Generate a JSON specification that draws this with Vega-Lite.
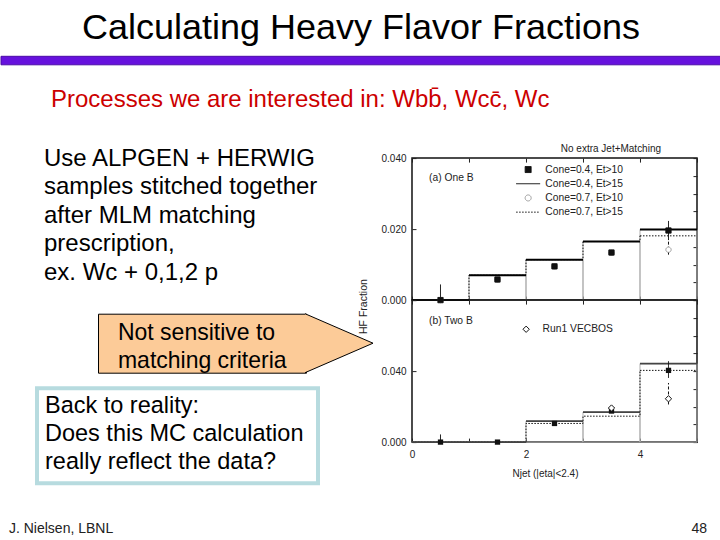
{
  "$schema": "https://vega.github.io/schema/vega-lite/v6.json",
  "background": "white",
  "padding": {"top": 9.3, "left": 0, "right": 0, "bottom": 0},
  "config": {
    "font": "Liberation Sans",
    "view": {"stroke": null},
    "concat": {"spacing": 0},
    "axis": {"labelFont": "Liberation Sans", "titleFont": "Liberation Sans", "labelFontSize": 10, "labelColor": "#222", "titleColor": "#222", "titleFontWeight": "normal", "tickColor": "#222", "grid": false, "labelOverlap": false},
    "legend": {"labelFont": "Liberation Sans", "titleFont": "Liberation Sans"},
    "title": {"font": "Liberation Sans", "fontWeight": "normal"}
  },
  "title": {"text": "Calculating Heavy Flavor Fractions", "fontSize": 36, "color": "#000", "anchor": "middle", "offset": 8.7},
  "datasets": {
    "histA": [
      {"series": "Cone=0.4, Et>15", "lo": 0, "hi": 1, "frac": 0},
      {"series": "Cone=0.4, Et>15", "lo": 1, "hi": 2, "frac": 0.0070},
      {"series": "Cone=0.4, Et>15", "lo": 2, "hi": 3, "frac": 0.0114},
      {"series": "Cone=0.4, Et>15", "lo": 3, "hi": 4, "frac": 0.0165},
      {"series": "Cone=0.4, Et>15", "lo": 4, "hi": 5, "frac": 0.0199},
      {"series": "Cone=0.7, Et>15", "lo": 0, "hi": 1, "frac": 0},
      {"series": "Cone=0.7, Et>15", "lo": 1, "hi": 2, "frac": 0.0070},
      {"series": "Cone=0.7, Et>15", "lo": 2, "hi": 3, "frac": 0.0114},
      {"series": "Cone=0.7, Et>15", "lo": 3, "hi": 4, "frac": 0.0165},
      {"series": "Cone=0.7, Et>15", "lo": 4, "hi": 5, "frac": 0.0181}
    ],
    "ptsA": [
      {"series": "Cone=0.7, Et>10", "njet": 0.5, "frac": 0, "errLo": null, "errHi": null},
      {"series": "Cone=0.7, Et>10", "njet": 1.5, "frac": 0.0058, "errLo": null, "errHi": null},
      {"series": "Cone=0.7, Et>10", "njet": 2.5, "frac": 0.0095, "errLo": null, "errHi": null},
      {"series": "Cone=0.7, Et>10", "njet": 3.5, "frac": 0.0133, "errLo": null, "errHi": null},
      {"series": "Cone=0.7, Et>10", "njet": 4.5, "frac": 0.0142, "errLo": 0.0128, "errHi": 0.0172},
      {"series": "Cone=0.4, Et>10", "njet": 0.5, "frac": 0, "errLo": 0, "errHi": 0.0044},
      {"series": "Cone=0.4, Et>10", "njet": 1.5, "frac": 0.0058, "errLo": null, "errHi": null},
      {"series": "Cone=0.4, Et>10", "njet": 2.5, "frac": 0.0095, "errLo": null, "errHi": null},
      {"series": "Cone=0.4, Et>10", "njet": 3.5, "frac": 0.0134, "errLo": 0.0127, "errHi": 0.0141},
      {"series": "Cone=0.4, Et>10", "njet": 4.5, "frac": 0.0196, "errLo": 0.0169, "errHi": 0.0223}
    ],
    "histB": [
      {"series": "Cone=0.4, Et>15", "lo": 0, "hi": 1, "frac": 0},
      {"series": "Cone=0.4, Et>15", "lo": 1, "hi": 2, "frac": 0},
      {"series": "Cone=0.4, Et>15", "lo": 2, "hi": 3, "frac": 0.0118},
      {"series": "Cone=0.4, Et>15", "lo": 3, "hi": 4, "frac": 0.0169},
      {"series": "Cone=0.4, Et>15", "lo": 4, "hi": 5, "frac": 0.0442},
      {"series": "Cone=0.7, Et>15", "lo": 0, "hi": 1, "frac": 0},
      {"series": "Cone=0.7, Et>15", "lo": 1, "hi": 2, "frac": 0},
      {"series": "Cone=0.7, Et>15", "lo": 2, "hi": 3, "frac": 0.0105},
      {"series": "Cone=0.7, Et>15", "lo": 3, "hi": 4, "frac": 0.0146},
      {"series": "Cone=0.7, Et>15", "lo": 4, "hi": 5, "frac": 0.0404}
    ],
    "ptsB": [
      {"series": "Cone=0.4, Et>10", "njet": 0.5, "frac": 0, "errLo": 0, "errHi": 0.0043},
      {"series": "Cone=0.4, Et>10", "njet": 1.5, "frac": 0, "errLo": null, "errHi": null},
      {"series": "Cone=0.4, Et>10", "njet": 2.5, "frac": 0.0105, "errLo": null, "errHi": null},
      {"series": "Cone=0.4, Et>10", "njet": 3.5, "frac": 0.0175, "errLo": 0.0167, "errHi": 0.0183},
      {"series": "Cone=0.4, Et>10", "njet": 4.5, "frac": 0.0404, "errLo": 0.0362, "errHi": 0.0456},
      {"series": "Run1 VECBOS", "njet": 3.5, "frac": 0.0192, "errLo": null, "errHi": null},
      {"series": "Run1 VECBOS", "njet": 4.5, "frac": 0.0244, "errLo": 0.0212, "errHi": 0.0333}
    ]
  },
  "spacing": 22.8,
  "vconcat": [
    {
      "width": 720, "height": 8.5,
      "data": {"values": [{"part": "rule"}]},
      "mark": {"type": "rect", "fill": "#6611dd", "stroke": "#4a0aa8", "strokeWidth": 1},
      "encoding": {}
    },
    {
      "title": {"text": "Processes we are interested in: Wbb\u0304, Wcc\u0304, Wc", "fontSize": 24, "color": "#cc0000", "anchor": "start", "dx": 50, "offset": 30.4},
      "spacing": -19,
      "hconcat": [
        {
          "spacing": 11.6,
          "vconcat": [
            {
              "width": 340, "height": 156.4,
              "data": {"values": [{"block": "intro", "text": "Use ALPGEN + HERWIG\nsamples stitched together\nafter MLM matching\nprescription,\nex. Wc + 0,1,2 p"}]},
              "mark": {"type": "text", "align": "left", "baseline": "alphabetic", "fontSize": 24, "lineBreak": "\n", "lineHeight": 28.5, "color": "#000"},
              "encoding": {
                "x": {"field": "block", "type": "nominal", "scale": {"type": "point", "padding": 0, "align": 0.1265}, "axis": null},
                "y": {"field": "block", "type": "nominal", "scale": {"type": "point", "padding": 0, "align": 0.1445}, "axis": null},
                "text": {"field": "text"}
              }
            },
            {
              "bounds": "flush",
              "hconcat": [
                {"width": 97, "height": 59, "data": {"values": [{"part": "gap"}]}, "mark": {"type": "point", "opacity": 0}},
                {
                  "width": 208, "height": 59,
                  "view": {"fill": "#fccb98", "stroke": "#000", "strokeWidth": 1},
                  "data": {"values": [{"block": "callout", "text": "Not sensitive to\nmatching criteria"}]},
                  "mark": {"type": "text", "align": "left", "baseline": "alphabetic", "fontSize": 23, "lineBreak": "\n", "lineHeight": 27.4, "color": "#000"},
                  "encoding": {
                    "x": {"field": "block", "type": "nominal", "scale": {"type": "point", "padding": 0, "align": 0.096}, "axis": null},
                    "y": {"field": "block", "type": "nominal", "scale": {"type": "point", "padding": 0, "align": 0.451}, "axis": null},
                    "text": {"field": "text"}
                  }
                },
                {
                  "width": 67, "height": 59,
                  "data": {"values": [{"part": "arrow"}]},
                  "mark": {"type": "point", "shape": "M -1.17 -1 L 1.136 0 L -1.17 1", "size": 3481, "filled": true, "fill": "#fccb98", "stroke": "#000", "strokeWidth": 1, "opacity": 1}
                }
              ]
            },
            {
              "bounds": "flush",
              "hconcat": [
                {"width": 35.3, "height": 95, "data": {"values": [{"part": "gap"}]}, "mark": {"type": "point", "opacity": 0}},
                {
                  "width": 281, "height": 95,
                  "view": {"fill": "white", "stroke": "#b7dbdf", "strokeWidth": 4},
                  "data": {"values": [{"block": "question", "text": "Back to reality:\nDoes this MC calculation\nreally reflect the data?"}]},
                  "mark": {"type": "text", "align": "left", "baseline": "alphabetic", "fontSize": 23.5, "lineBreak": "\n", "lineHeight": 27.8, "color": "#000"},
                  "encoding": {
                    "x": {"field": "block", "type": "nominal", "scale": {"type": "point", "padding": 0, "align": 0.0285}, "axis": null},
                    "y": {"field": "block", "type": "nominal", "scale": {"type": "point", "padding": 0, "align": 0.26}, "axis": null},
                    "text": {"field": "text"}
                  }
                }
              ]
            }
          ]
        },
        {
          "spacing": 0,
          "bounds": "flush",
          "resolve": {"scale": {"shape": "independent", "fill": "independent", "stroke": "independent", "strokeDash": "independent"}},
          "vconcat": [
            {"width": 285, "height": 14.3, "data": {"values": [{"part": "gap"}]}, "mark": {"type": "point", "opacity": 0}},
            {
              "width": 285, "height": 142,
              "title": {"text": "No extra Jet+Matching", "fontSize": 10, "anchor": "end", "dx": -37, "offset": -0.5, "color": "#222"},
              "view": {"stroke": "#111", "strokeWidth": 1.5},
              "resolve": {"scale": {"x": "independent", "y": "independent"}},
              "layer": [
                {
                  "layer": [
                    {
                      "data": {"name": "histA"},
                      "transform": [{"filter": "datum.series === 'Cone=0.4, Et>15'"}],
                      "mark": {"type": "rect", "fill": "transparent", "stroke": "#b0b0b0", "strokeWidth": 1},
                      "encoding": {
                        "x": {"field": "lo", "type": "quantitative", "scale": {"domain": [0, 5], "nice": false, "zero": false}, "axis": {"title": null, "values": [0, 1, 2, 3, 4, 5], "labels": false, "tickSize": -4, "domain": false}},
                        "x2": {"field": "hi"},
                        "y": {"field": "frac", "type": "quantitative", "scale": {"domain": [0, 0.04], "nice": false}, "axis": {"title": "HF Fraction", "values": [0, 0.005, 0.01, 0.015, 0.02, 0.025, 0.03, 0.035, 0.04], "labelExpr": "abs(datum.value * 50 - round(datum.value * 50)) < 0.001 ? format(datum.value, '.3f') : ''", "tickSize": -4, "labelPadding": 10, "domain": false, "titleFontSize": 10.5, "titleX": -45.7, "titleY": 148, "titleBaseline": "alphabetic", "titleAngle": 270}},
                        "y2": {"datum": 0}
                      }
                    },
                    {
                      "data": {"name": "histA"},
                      "transform": [{"filter": "datum.series === 'Cone=0.7, Et>15'"}],
                      "mark": {"type": "line", "interpolate": "step-after", "strokeDash": [1.5, 1.5], "color": "#111", "strokeWidth": 1},
                      "encoding": {
                        "x": {"field": "lo", "type": "quantitative"},
                        "y": {"field": "frac", "type": "quantitative"}
                      }
                    },
                    {
                      "data": {"name": "histA"},
                      "transform": [{"filter": "datum.series === 'Cone=0.7, Et>15' && datum.lo >= 4"}],
                      "mark": {"type": "rule", "strokeDash": [1.5, 1.5], "color": "#111", "strokeWidth": 1},
                      "encoding": {
                        "x": {"field": "lo", "type": "quantitative"},
                        "x2": {"field": "hi"},
                        "y": {"field": "frac", "type": "quantitative"}
                      }
                    },
                    {
                      "data": {"name": "histA"},
                      "transform": [{"filter": "datum.series === 'Cone=0.4, Et>15'"}],
                      "mark": {"type": "rule", "color": "#000", "strokeWidth": 2},
                      "encoding": {
                        "x": {"field": "lo", "type": "quantitative"},
                        "x2": {"field": "hi"},
                        "y": {"field": "frac", "type": "quantitative"}
                      }
                    },
                    {
                      "data": {"name": "ptsA"},
                      "transform": [{"filter": "isValid(datum.errLo)"}],
                      "mark": {"type": "rule", "color": "#111", "strokeWidth": 1},
                      "encoding": {
                        "x": {"field": "njet", "type": "quantitative"},
                        "y": {"field": "errLo", "type": "quantitative"},
                        "y2": {"field": "errHi"},
                        "strokeDash": {"condition": {"test": "datum.series !== 'Cone=0.4, Et>10'", "value": [3, 2]}, "value": [1, 0]}
                      }
                    },
                    {
                      "data": {"name": "ptsA"},
                      "mark": {"type": "point", "filled": true, "size": 28, "strokeWidth": 1, "opacity": 1},
                      "encoding": {
                        "x": {"field": "njet", "type": "quantitative"},
                        "y": {"field": "frac", "type": "quantitative"},
                        "fill": {"field": "series", "type": "nominal", "scale": {"domain": ["Cone=0.4, Et>10", "Cone=0.4, Et>15", "Cone=0.7, Et>10", "Cone=0.7, Et>15"], "range": ["#111111", "transparent", "white", "transparent"]}},
                        "stroke": {"field": "series", "type": "nominal", "scale": {"domain": ["Cone=0.4, Et>10", "Cone=0.4, Et>15", "Cone=0.7, Et>10", "Cone=0.7, Et>15"], "range": ["#111111", "#111111", "#999999", "#111111"]}},
                        "strokeDash": {"field": "series", "type": "nominal", "scale": {"domain": ["Cone=0.4, Et>10", "Cone=0.4, Et>15", "Cone=0.7, Et>10", "Cone=0.7, Et>15"], "range": [[1, 0], [1, 0], [1, 0], [1.5, 1.5]]}},
                        "shape": {
                          "field": "series", "type": "nominal",
                          "scale": {"domain": ["Cone=0.4, Et>10", "Cone=0.4, Et>15", "Cone=0.7, Et>10", "Cone=0.7, Et>15"], "range": ["square", "M -4 0 L 4 0", "circle", "M -4 0 L 4 0"]},
                          "legend": {
                            "orient": "none", "legendX": 17, "legendY": 6.3,
                            "title": ["", "(a) One B"], "titleOrient": "left", "titleAnchor": "start", "titleBaseline": "top", "titleLineHeight": 8.4,
                            "titleFontSize": 10.3, "titleFontWeight": "normal", "titleColor": "#222", "titlePadding": 49,
                            "labelFontSize": 10.3, "labelColor": "#222", "labelOffset": 12, "rowPadding": 3.2, "padding": 0,
                            "symbolSize": 36, "symbolStrokeWidth": 1
                          }
                        }
                      }
                    }
                  ]
                },
                {
                  "data": {"name": "ptsA"},
                  "mark": {"type": "point", "opacity": 0},
                  "encoding": {
                    "x": {"field": "njet", "type": "quantitative", "scale": {"domain": [0, 5], "nice": false, "zero": false}, "axis": {"orient": "top", "values": [0, 1, 2, 3, 4, 5], "labels": false, "tickSize": -4, "domain": false, "title": null}},
                    "y": {"field": "frac", "type": "quantitative", "scale": {"domain": [0, 0.04], "nice": false}, "axis": {"orient": "right", "values": [0, 0.005, 0.01, 0.015, 0.02, 0.025, 0.03, 0.035, 0.04], "labels": false, "tickSize": -4, "domain": false, "title": null}}
                  }
                }
              ]
            },
            {
              "width": 285, "height": 142,
              "view": {"stroke": "#111", "strokeWidth": 1.5},
              "resolve": {"scale": {"x": "independent", "y": "independent"}},
              "layer": [
                {
                  "layer": [
                    {
                      "data": {"name": "histB"},
                      "transform": [{"filter": "datum.series === 'Cone=0.4, Et>15'"}],
                      "mark": {"type": "rect", "fill": "transparent", "stroke": "#b0b0b0", "strokeWidth": 1},
                      "encoding": {
                        "x": {"field": "lo", "type": "quantitative", "scale": {"domain": [0, 5], "nice": false, "zero": false}, "axis": {"title": "Njet (|eta|<2.4)", "values": [0, 1, 2, 3, 4, 5], "labelExpr": "datum.value === 0 || datum.value === 2 || datum.value === 4 ? format(datum.value, 'd') : ''", "tickSize": -4, "labelPadding": 11.5, "domain": false, "titleFontSize": 10, "titleX": 133, "titlePadding": 8.5, "labelFlush": false}},
                        "x2": {"field": "hi"},
                        "y": {"field": "frac", "type": "quantitative", "scale": {"domain": [0, 0.08], "nice": false}, "axis": {"title": null, "values": [0, 0.01, 0.02, 0.03, 0.04, 0.05, 0.06, 0.07, 0.08], "labelExpr": "abs(datum.value) < 0.0001 || abs(datum.value - 0.04) < 0.0001 ? format(datum.value, '.3f') : ''", "tickSize": -4, "labelPadding": 10, "domain": false}},
                        "y2": {"datum": 0}
                      }
                    },
                    {
                      "data": {"name": "histB"},
                      "transform": [{"filter": "datum.series === 'Cone=0.7, Et>15'"}],
                      "mark": {"type": "line", "interpolate": "step-after", "strokeDash": [1.5, 1.5], "color": "#111", "strokeWidth": 1},
                      "encoding": {
                        "x": {"field": "lo", "type": "quantitative"},
                        "y": {"field": "frac", "type": "quantitative"}
                      }
                    },
                    {
                      "data": {"name": "histB"},
                      "transform": [{"filter": "datum.series === 'Cone=0.7, Et>15' && datum.lo >= 4"}],
                      "mark": {"type": "rule", "strokeDash": [1.5, 1.5], "color": "#111", "strokeWidth": 1},
                      "encoding": {
                        "x": {"field": "lo", "type": "quantitative"},
                        "x2": {"field": "hi"},
                        "y": {"field": "frac", "type": "quantitative"}
                      }
                    },
                    {
                      "data": {"name": "histB"},
                      "transform": [{"filter": "datum.series === 'Cone=0.4, Et>15'"}],
                      "mark": {"type": "rule", "color": "#444", "strokeWidth": 1.8},
                      "encoding": {
                        "x": {"field": "lo", "type": "quantitative"},
                        "x2": {"field": "hi"},
                        "y": {"field": "frac", "type": "quantitative"}
                      }
                    },
                    {
                      "data": {"name": "ptsB"},
                      "transform": [{"filter": "isValid(datum.errLo)"}],
                      "mark": {"type": "rule", "color": "#111", "strokeWidth": 1},
                      "encoding": {
                        "x": {"field": "njet", "type": "quantitative"},
                        "y": {"field": "errLo", "type": "quantitative"},
                        "y2": {"field": "errHi"},
                        "strokeDash": {"condition": {"test": "datum.series === 'Run1 VECBOS'", "value": [3, 2]}, "value": [1, 0]}
                      }
                    },
                    {
                      "data": {"name": "ptsB"},
                      "transform": [{"filter": "datum.series === 'Cone=0.4, Et>10'"}],
                      "mark": {"type": "point", "shape": "square", "filled": true, "size": 28, "color": "#111", "opacity": 1},
                      "encoding": {
                        "x": {"field": "njet", "type": "quantitative"},
                        "y": {"field": "frac", "type": "quantitative"}
                      }
                    },
                    {
                      "data": {"name": "ptsB"},
                      "transform": [{"filter": "datum.series === 'Run1 VECBOS'"}],
                      "mark": {"type": "point", "filled": true, "fill": "white", "stroke": "#111", "strokeWidth": 1, "size": 40, "opacity": 1},
                      "encoding": {
                        "x": {"field": "njet", "type": "quantitative"},
                        "y": {"field": "frac", "type": "quantitative"},
                        "shape": {
                          "field": "series", "type": "nominal",
                          "scale": {"domain": ["Run1 VECBOS"], "range": ["diamond"]},
                          "legend": {
                            "orient": "none", "legendX": 17, "legendY": 24,
                            "title": "(b) Two B", "titleOrient": "left", "titleAnchor": "start", "titleBaseline": "alphabetic",
                            "titleFontSize": 10.3, "titleFontWeight": "normal", "titleColor": "#222", "titlePadding": 47,
                            "labelFontSize": 10.3, "labelColor": "#222", "labelOffset": 11.3, "padding": 0,
                            "symbolSize": 40, "symbolStrokeWidth": 1
                          }
                        }
                      }
                    }
                  ]
                },
                {
                  "data": {"name": "ptsB"},
                  "mark": {"type": "point", "opacity": 0},
                  "encoding": {
                    "x": {"field": "njet", "type": "quantitative", "scale": {"domain": [0, 5], "nice": false, "zero": false}, "axis": {"orient": "top", "values": [0, 1, 2, 3, 4, 5], "labels": false, "tickSize": -4, "domain": false, "title": null}},
                    "y": {"field": "frac", "type": "quantitative", "scale": {"domain": [0, 0.08], "nice": false}, "axis": {"orient": "right", "values": [0, 0.01, 0.02, 0.03, 0.04, 0.05, 0.06, 0.07, 0.08], "labels": false, "tickSize": -4, "domain": false, "title": null}}
                  }
                }
              ]
            }
          ]
        }
      ]
    },
    {
      "width": 720, "height": 32.9,
      "data": {"values": [{"side": "left", "row": "footer", "text": "J. Nielsen, LBNL"}, {"side": "right", "row": "footer", "text": "48"}]},
      "encoding": {
        "x": {"field": "side", "type": "nominal", "scale": {"type": "point", "padding": 0.01576, "align": 0.364}, "axis": null},
        "y": {"field": "row", "type": "nominal", "scale": {"type": "point", "padding": 0, "align": 0.605}, "axis": null},
        "text": {"field": "text"}
      },
      "layer": [
        {"transform": [{"filter": "datum.side === 'left'"}], "mark": {"type": "text", "align": "left", "baseline": "middle", "fontSize": 14, "color": "#222"}},
        {"transform": [{"filter": "datum.side === 'right'"}], "mark": {"type": "text", "align": "right", "baseline": "middle", "fontSize": 14, "color": "#222"}}
      ]
    }
  ]
}
